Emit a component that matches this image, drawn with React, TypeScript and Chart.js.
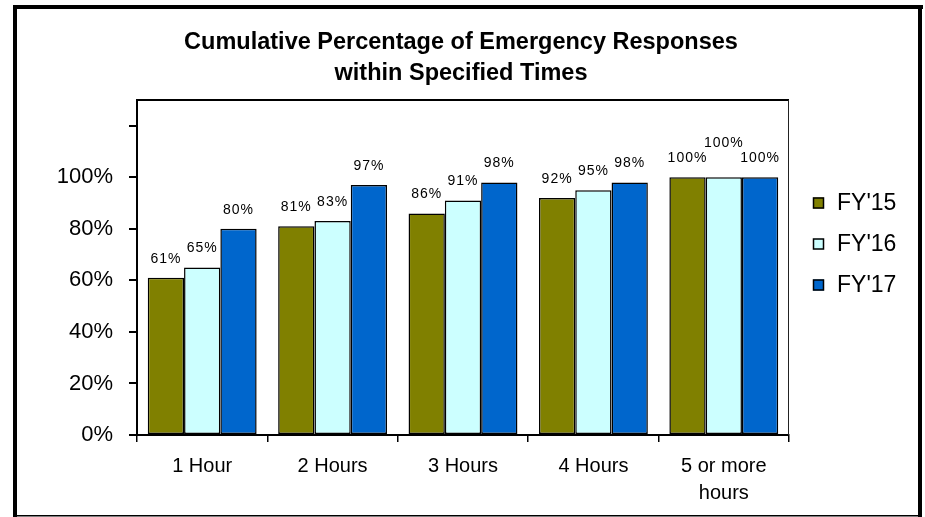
import React, { useEffect, useRef } from 'react';
import { Chart, registerables } from 'chart.js';

Chart.register(...registerables);

const categories: (string | string[])[] = ['1 Hour', '2 Hours', '3 Hours', '4 Hours', ['5 or more', 'hours']];
const seriesNames = ["FY'15", "FY'16", "FY'17"];
const fy15 = [61, 81, 86, 92, 100];
const fy16 = [65, 83, 91, 95, 100];
const fy17 = [80, 97, 98, 98, 100];
const seriesColors = ['#808000', '#CCFFFF', '#0066CC'];
const titleLines = ['Cumulative Percentage of Emergency Responses', 'within Specified Times'];
const yMin = 0;
const yMax = 130;
const yStep = 20;
const yLabelMax = 100;

const FONT = '"Liberation Sans", Arial, sans-serif';

const framePlugin = {
  id: 'framePlugin',
  beforeDraw(chart: any) {
    const ctx = chart.ctx;
    ctx.save();
    ctx.fillStyle = '#ffffff';
    ctx.fillRect(0, 0, chart.width, chart.height);
    ctx.restore();
  },
  afterDraw(chart: any) {
    const ctx = chart.ctx;
    const a = chart.chartArea;
    ctx.save();
    // plot area top & right border
    ctx.strokeStyle = '#000';
    ctx.lineWidth = 2;
    ctx.beginPath();
    ctx.moveTo(a.left, a.top);
    ctx.lineTo(a.right, a.top);
    ctx.stroke();
    ctx.lineWidth = 1;
    ctx.strokeStyle = '#222';
    ctx.beginPath();
    ctx.moveTo(a.right - 0.5, a.top);
    ctx.lineTo(a.right - 0.5, a.bottom);
    ctx.stroke();
    // outer frame
    ctx.fillStyle = '#000';
    ctx.fillRect(13, 5, 4, 512);
    ctx.fillRect(13, 5, 910, 4);
    ctx.fillRect(918, 5, 4, 512);
    ctx.fillRect(13, 515, 909, 1.5);
    // title
    ctx.fillStyle = '#000';
    ctx.font = 'bold 23.5px ' + FONT;
    ctx.textAlign = 'center';
    ctx.textBaseline = 'alphabetic';
    ctx.fillText(titleLines[0], 461, 49);
    ctx.fillText(titleLines[1], 461, 80);
    // legend
    const lx = 813;
    const ly = [203, 244, 285];
    chart.data.datasets.forEach((ds: any, i: number) => {
      ctx.fillStyle = ds.backgroundColor;
      ctx.fillRect(lx, ly[i] - 5.5, 11, 11);
      ctx.strokeStyle = '#000';
      ctx.lineWidth = 1.5;
      ctx.strokeRect(lx + 0.5, ly[i] - 5, 10, 10);
      ctx.fillStyle = '#000';
      ctx.font = '23px ' + FONT;
      ctx.textAlign = 'left';
      ctx.textBaseline = 'middle';
      ctx.fillText(ds.label, 837, ly[i] + 1);
    });
    ctx.restore();
  },
};

const dataLabelPlugin = {
  id: 'dataLabelPlugin',
  afterDatasetsDraw(chart: any) {
    const ctx = chart.ctx;
    ctx.save();
    ctx.font = '14px ' + FONT;
    try { (ctx as any).letterSpacing = '1px'; } catch (e) {}
    ctx.fillStyle = '#000';
    ctx.textAlign = 'center';
    ctx.textBaseline = 'middle';
    const n = chart.data.labels.length;
    const h = 14;
    for (let i = 0; i < n; i++) {
      const placed: { l: number; r: number; t: number; b: number }[] = [];
      chart.data.datasets.forEach((ds: any, di: number) => {
        const meta = chart.getDatasetMeta(di);
        const el = meta.data[i];
        if (!el) return;
        const text = ds.data[i] + '%';
        const w = ctx.measureText(text).width;
        let cy = el.y - 19;
        const l = el.x - w / 2;
        const r = el.x + w / 2;
        let guard = 0;
        while (
          guard < 10 &&
          placed.some((p) => l < p.r && r > p.l && cy - h / 2 < p.b && cy + h / 2 > p.t)
        ) {
          cy -= h + 1;
          guard++;
        }
        placed.push({ l, r, t: cy - h / 2, b: cy + h / 2 });
        ctx.fillText(text, el.x, cy);
      });
    }
    ctx.restore();
  },
};

export default function App() {
  const canvasRef = useRef<HTMLCanvasElement | null>(null);

  useEffect(() => {
    if (!canvasRef.current) return;
    Chart.defaults.font.family = FONT;
    Chart.defaults.color = '#000';
    const seriesData = [fy15, fy16, fy17];
    const chart = new Chart(canvasRef.current, {
      type: 'bar',
      data: {
        labels: categories,
        datasets: seriesNames.map((name, i) => ({
          label: name,
          data: seriesData[i],
          backgroundColor: seriesColors[i],
          borderColor: '#000',
          borderWidth: 1.5,
          borderSkipped: false,
          categoryPercentage: 0.835,
          barPercentage: 1,
        })),
      },
      options: {
        responsive: false,
        animation: false,
        layout: { padding: { top: 100, right: 136, left: 0, bottom: 0 } },
        plugins: {
          legend: { display: false },
          title: { display: false },
          tooltip: { enabled: false },
        },
        scales: {
          x: {
            grid: { drawOnChartArea: false, drawTicks: true, tickLength: 7, color: '#000', lineWidth: 1.5 },
            border: { display: true, color: '#000', width: 2 },
            ticks: { color: '#000', font: { size: 20, lineHeight: 1.35 }, padding: 11, maxRotation: 0 },
            afterFit: (s: any) => { s.height = 82; },
          },
          y: {
            min: yMin,
            max: yMax,
            grid: { drawOnChartArea: false, drawTicks: true, tickLength: 8, color: '#000', lineWidth: 2 },
            border: { display: true, color: '#000', width: 2 },
            ticks: {
              stepSize: yStep,
              includeBounds: false,
              color: '#000',
              font: { size: 22 },
              padding: 16,
              callback: (v: any) => (Number(v) <= yLabelMax ? v + '%' : ''),
            },
            afterFit: (s: any) => { s.width = 137; },
          },
        },
      },
      plugins: [framePlugin, dataLabelPlugin],
    } as any);
    return () => chart.destroy();
  }, []);

  return (
    <div style={{ position: 'absolute', left: 0, top: 0, width: 925, height: 517, background: '#fff' }}>
      <canvas ref={canvasRef} width={925} height={517} style={{ display: 'block', width: 925, height: 517 }} />
    </div>
  );
}
